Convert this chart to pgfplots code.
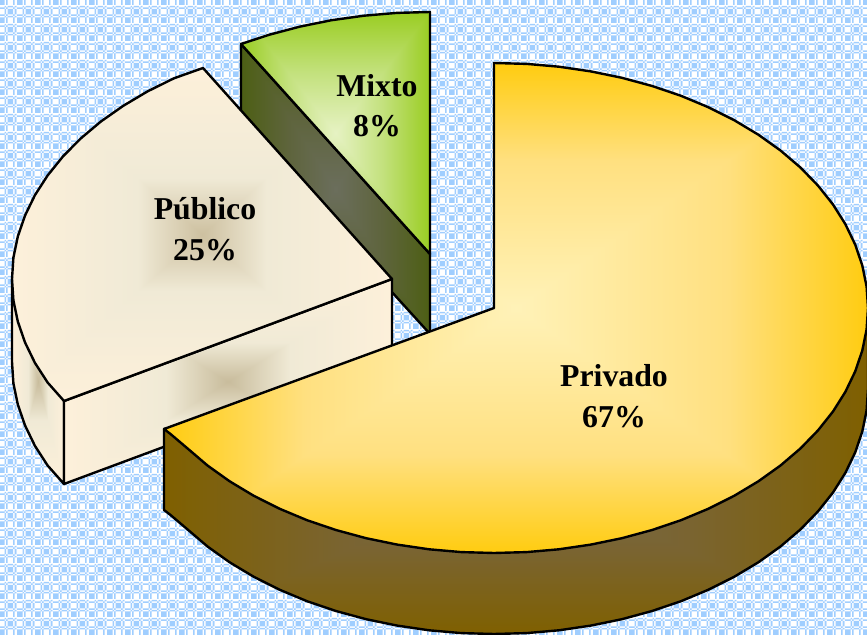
\documentclass[border=0pt]{standalone}
\usepackage{fontspec}
\setmainfont{Liberation Serif}
\usepackage{pgfplots}
\pgfplotsset{compat=1.18}
\usetikzlibrary{patterns}
\makeatletter
\def\pie@seg#1 #2 #3;#4 #5 #6;{dup dup #4 #1 sub mul #1 add 255 div exch #5 #2 sub mul #2 add 255 div 3 -1 roll #6 #3 sub mul #3 add 255 div}
% name, centre colour, middle colour, edge colour, position of the middle colour
\newcommand\rectshade[5]{%
  \edef\pie@temp{\noexpand\pgfdeclarefunctionalshading{#1}{\noexpand\pgfpoint{-50bp}{-50bp}}{\noexpand\pgfpoint{50bp}{50bp}}{}{%
    abs exch abs 2 copy lt {exch} if pop 25 div dup 1 gt {pop 1} if
    dup #5 lt {#5 div \pie@seg#2;#3;} {#5 sub 1 #5 sub div \pie@seg#3;#4;} ifelse}}%
  \pie@temp}
\makeatother
\rectshade{goldtop}{255 242 184}{255 224 128}{255 204 16}{0.6}
\rectshade{goldside}{116 104 80}{122 100 48}{127 96 0}{0.5}
\rectshade{creamtop}{205 192 160}{240 234 214}{253 240 218}{0.34}
\rectshade{creamside}{200 188 156}{240 234 214}{253 240 218}{0.38}
\rectshade{greentop}{230 242 195}{195 225 125}{154 205 34}{0.5}
\rectshade{greenside}{107 110 92}{94 100 60}{77 95 20}{0.5}
\definecolor{wblue}{HTML}{A0CEFF}
\pgfdeclarepatterninherentlycolored{weave}{\pgfpointorigin}{\pgfqpoint{9pt}{9pt}}{\pgfqpoint{9pt}{9pt}}{%
  \pgfsetfillcolor{white}
  \pgfpathrectangle{\pgfpointorigin}{\pgfqpoint{9pt}{9pt}}\pgfusepath{fill}
  \pgfsetfillcolor{wblue}
  \foreach \x/\w/\i in {0/3/0,3/0.75/1,3.75/0.75/2,4.5/3/3,7.5/0.75/4,8.25/0.75/5}{
    \foreach \y/\h/\j in {0/3/0,3/0.75/1,3.75/0.75/2,4.5/3/3,7.5/0.75/4,8.25/0.75/5}{
      \pgfmathparse{int(mod(\i+\j,2))}
      \ifnum\pgfmathresult=0
        \pgfpathrectangle{\pgfqpoint{\x pt}{\y pt}}{\pgfqpoint{\w pt}{\h pt}}
      \fi
    }
  }
  \pgfusepath{fill}
}
\begin{document}
\begin{tikzpicture}
\begin{axis}[
  width=433.5pt,height=317.5pt,scale only axis,
  xmin=0,xmax=867,ymin=0,ymax=635,y dir=reverse,
  axis lines=none,
  every axis plot/.append style={line width=1.2pt,line join=round,mark=none},
]
% background
\addplot[draw=none,pattern=weave] coordinates {(0,0)(867,0)(867,635)(0,635)} --cycle;
% Mixto
\addplot[draw=black,shade,shading=greenside] coordinates {(241,44)(430,254)(430,334)(241,126)} --cycle;
\addplot[draw=black,shade,shading=greentop] coordinates {(430,12)(396.9,12.9)(364,15.7)(331.6,20.2)(300,26.6)(269.4,34.7)(241,44)(430,254)} --cycle;
% Publico
\addplot[draw=black,shade,shading=creamside] coordinates {(12,279)(12,362)(13.4,383.4)(17.8,404.5)(25,425.4)(34.9,445.8)(47.6,465.5)(64,484)(64,401)} --cycle;
\addplot[draw=black,shade,shading=creamside] coordinates {(64,401)(392,279)(392,362)(64,484)} --cycle;
\addplot[draw=black,shade,shading=creamtop] coordinates {(392,279)(203,68)(174,78.3)(147.7,91.3)(123.3,105.8)(100.9,121.5)(80.7,138.5)(62.9,156.5)(47.6,175.5)(34.9,195.2)(25,215.6)(17.8,236.5)(13.4,257.6)(12,279)(13.4,300.4)(17.8,321.5)(25,342.4)(34.9,362.8)(47.6,382.5)(64,401)} --cycle;
% Privado
\addplot[draw=black,shade,shading=goldside] coordinates {(868,308)(868,389)(866.6,410.4)(862.3,431.5)(855.2,452.4)(845.4,472.8)(833,492.5)(817.9,511.5)(800.4,529.5)(780.5,546.5)(758.5,562.2)(734.4,576.7)(708.5,589.7)(681,601.2)(652.1,611)(621.9,619.2)(590.8,625.6)(558.9,630.3)(526.6,633.1)(494,634)(461.4,633.1)(429.1,630.3)(397.2,625.6)(366.1,619.2)(335.9,611)(307,601.2)(279.5,589.7)(253.6,576.7)(229.5,562.2)(207.5,546.5)(187.6,529.5)(170.5,515)(164,510)(164,429)} --cycle;
\addplot[draw=black,shade,shading=goldtop] coordinates {(494,308)(494,63)(526.6,63.9)(558.9,66.7)(590.8,71.4)(621.9,77.8)(652.1,86)(681,95.8)(708.5,107.3)(734.4,120.3)(758.5,134.8)(780.5,150.5)(800.4,167.5)(817.9,185.5)(833,204.5)(845.4,224.2)(855.2,244.6)(862.3,265.5)(866.6,286.6)(868,308)(866.6,329.4)(862.3,350.5)(855.2,371.4)(845.4,391.8)(833,411.5)(817.9,430.5)(800.4,448.5)(780.5,465.5)(758.5,481.2)(734.4,495.7)(708.5,508.7)(681,520.2)(652.1,530)(621.9,538.2)(590.8,544.6)(558.9,549.3)(526.6,552.1)(494,553)(461.4,552.1)(429.1,549.3)(397.2,544.6)(366.1,538.2)(335.9,530)(307,520.2)(279.5,508.7)(253.6,495.7)(229.5,481.2)(207.5,465.5)(187.6,448.5)(170.5,434)(164,429)} --cycle;
% labels
\begin{scope}[every node/.style={anchor=base,font=\fontsize{15.9}{19}\selectfont\bfseries,inner sep=0pt}]
\node at (axis cs:614,387) {Privado};
\node at (axis cs:614,428) {67\%};
\node at (axis cs:205,220) {Público};
\node at (axis cs:205,261) {25\%};
\node at (axis cs:377,97) {Mixto};
\node at (axis cs:377,137) {8\%};
\end{scope}
\end{axis}
\end{tikzpicture}
\end{document}
